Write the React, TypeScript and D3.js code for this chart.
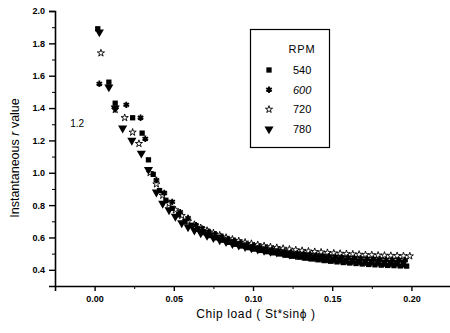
import { useEffect, useRef } from 'react';
import * as d3 from 'd3';

const width = 450;
const height = 333;
const [mt, mr, mb, ml] = [11, 0, 47, 55];

// chip load (x) and instantaneous r value (y), one pair of arrays per RPM
const chipLoad540 = [0.002, 0.009, 0.013, 0.024, 0.030, 0.034, 0.037, 0.041, 0.045, 0.049, 0.053, 0.057, 0.061, 0.065, 0.069, 0.073, 0.077, 0.081, 0.085, 0.089, 0.093, 0.097, 0.101, 0.105, 0.109, 0.113, 0.117, 0.121, 0.125, 0.129, 0.133, 0.137, 0.141, 0.145, 0.149, 0.153, 0.157, 0.161, 0.165, 0.169, 0.173, 0.177, 0.181, 0.185, 0.189, 0.193, 0.197];
const rValue540 = [1.89, 1.56, 1.43, 1.34, 1.245, 1.08, 0.99, 0.89, 0.83, 0.78, 0.74, 0.70, 0.675, 0.65, 0.63, 0.612, 0.598, 0.583, 0.57, 0.558, 0.547, 0.537, 0.528, 0.52, 0.512, 0.505, 0.498, 0.49, 0.484, 0.478, 0.472, 0.467, 0.462, 0.457, 0.453, 0.449, 0.445, 0.442, 0.439, 0.436, 0.433, 0.431, 0.429, 0.427, 0.426, 0.424, 0.423];

const chipLoad600 = [0.003, 0.020, 0.029, 0.032, 0.039, 0.044, 0.049, 0.054, 0.059, 0.064, 0.068, 0.072, 0.076, 0.080, 0.084, 0.088, 0.092, 0.096, 0.100, 0.104, 0.108, 0.112, 0.116, 0.120, 0.124, 0.128, 0.132, 0.136, 0.140, 0.144, 0.148, 0.152, 0.156, 0.160, 0.164, 0.168, 0.172, 0.176, 0.180, 0.184, 0.188, 0.192, 0.196];
const rValue600 = [1.55, 1.42, 1.34, 1.21, 0.955, 0.875, 0.82, 0.757, 0.72, 0.676, 0.655, 0.635, 0.62, 0.605, 0.59, 0.578, 0.567, 0.557, 0.548, 0.54, 0.533, 0.526, 0.52, 0.514, 0.508, 0.503, 0.499, 0.495, 0.491, 0.487, 0.484, 0.481, 0.478, 0.476, 0.473, 0.471, 0.469, 0.467, 0.465, 0.463, 0.462, 0.461, 0.46];

const chipLoad720 = [0.004, 0.013, 0.019, 0.024, 0.028, 0.035, 0.039, 0.043, 0.047, 0.051, 0.055, 0.059, 0.063, 0.067, 0.071, 0.075, 0.079, 0.083, 0.087, 0.091, 0.095, 0.099, 0.103, 0.107, 0.111, 0.115, 0.119, 0.123, 0.127, 0.131, 0.135, 0.139, 0.143, 0.147, 0.151, 0.155, 0.159, 0.163, 0.167, 0.171, 0.175, 0.179, 0.183, 0.187, 0.191, 0.195, 0.199];
const rValue720 = [1.74, 1.39, 1.34, 1.25, 1.18, 1.0, 0.93, 0.86, 0.81, 0.77, 0.735, 0.70, 0.68, 0.66, 0.643, 0.628, 0.614, 0.60, 0.589, 0.579, 0.57, 0.562, 0.555, 0.548, 0.542, 0.537, 0.532, 0.527, 0.523, 0.519, 0.515, 0.512, 0.509, 0.506, 0.503, 0.501, 0.499, 0.497, 0.495, 0.493, 0.492, 0.49, 0.489, 0.488, 0.487, 0.486, 0.485];

const chipLoad780 = [0.003, 0.009, 0.013, 0.0177, 0.0235, 0.0295, 0.034, 0.039, 0.043, 0.047, 0.051, 0.055, 0.059, 0.063, 0.067, 0.071, 0.075, 0.079, 0.083, 0.087, 0.091, 0.095, 0.099, 0.103, 0.107, 0.111, 0.115, 0.119, 0.123, 0.127, 0.131, 0.135, 0.139, 0.143, 0.147, 0.151, 0.155, 0.159, 0.163, 0.167, 0.171, 0.175, 0.179, 0.183, 0.187, 0.191, 0.195];
const rValue780 = [1.87, 1.53, 1.40, 1.276, 1.20, 1.12, 1.02, 0.88, 0.81, 0.77, 0.73, 0.69, 0.665, 0.645, 0.628, 0.612, 0.598, 0.585, 0.573, 0.562, 0.552, 0.543, 0.535, 0.527, 0.52, 0.514, 0.508, 0.502, 0.497, 0.492, 0.487, 0.483, 0.479, 0.475, 0.471, 0.468, 0.465, 0.462, 0.459, 0.456, 0.454, 0.452, 0.45, 0.448, 0.446, 0.445, 0.444];

const rpmLabels = ['540', '600', '720', '780'];
const xTicks = [0, 0.05, 0.1, 0.15, 0.2];
const xMinorTicks = [-0.025, 0.025, 0.075, 0.125, 0.175, 0.225];
const yTicks = [0.4, 0.6, 0.8, 1.0, 1.2, 1.4, 1.6, 1.8, 2.0];
const yMinorTicks = [0.3, 0.5, 0.7, 0.9, 1.1, 1.3, 1.5, 1.7, 1.9];

const font = 'Arial, "Liberation Sans", sans-serif';

export default function App() {
    const ref = useRef<HTMLDivElement>(null);

    useEffect(() => {
        const root = d3.select(ref.current);
        root.selectAll('*').remove();

        const svg = root
            .append('svg')
            .attr('width', width)
            .attr('height', height)
            .style('display', 'block')
            .style('background', '#fff')
            .attr('font-family', font);

        const x = d3.scaleLinear().domain([-0.025, 0.225]).range([ml, width - mr + 1]);
        const y = d3.scaleLinear().domain([0.3, 2.0]).range([height - mb, mt]);

        // axes
        const xAxisG = svg.append('g').attr('transform', `translate(0,${height - mb})`);
        xAxisG
            .append('g')
            .call(d3.axisBottom(x).tickValues(xMinorTicks).tickSize(3).tickFormat(() => ''))
            .call((g) => g.select('.domain').remove());
        xAxisG
            .append('g')
            .call(d3.axisBottom(x).tickValues(xTicks).tickSize(5).tickPadding(5).tickFormat(d3.format('.2f')))
            .call((g) => g.select('.domain').attr('stroke-width', 1.6))
            .call((g) => g.selectAll('.tick line').attr('stroke-width', 1.4))
            .call((g) => g.selectAll('text').attr('font-size', 9).attr('font-weight', 'bold').attr('font-family', font));

        const yAxisG = svg.append('g').attr('transform', `translate(${ml},0)`);
        yAxisG
            .append('g')
            .call(d3.axisLeft(y).tickValues(yMinorTicks).tickSize(3).tickFormat(() => ''))
            .call((g) => g.select('.domain').remove());
        yAxisG
            .append('g')
            .call(d3.axisLeft(y).tickValues(yTicks).tickSize(6).tickPadding(4).tickFormat(d3.format('.1f')))
            .call((g) => g.select('.domain').attr('stroke-width', 1.6))
            .call((g) => g.selectAll('.tick line').attr('stroke-width', 1.4))
            .call((g) => g.selectAll('text').attr('font-size', 9).attr('font-weight', 'bold').attr('font-family', font));

        // stray label inside plot
        svg.append('text')
            .attr('x', x(-0.011))
            .attr('y', y(1.28))
            .attr('text-anchor', 'middle')
            .attr('font-size', 10)
            .text('1.2');

        // markers
        const symbols = [
            { type: d3.symbolSquare, size: 28, fill: '#000', stroke: 'none', sw: 0, rot: 0 },
            { type: d3.symbolAsterisk, size: 28, fill: 'none', stroke: '#000', sw: 1.9, rot: 0 },
            { type: d3.symbolStar, size: 16, fill: '#fff', stroke: '#000', sw: 0.9, rot: 0 },
            { type: d3.symbolTriangle, size: 36, fill: '#000', stroke: 'none', sw: 0, rot: 180 }
        ];
        const series = [
            { xs: chipLoad540, ys: rValue540 },
            { xs: chipLoad600, ys: rValue600 },
            { xs: chipLoad720, ys: rValue720 },
            { xs: chipLoad780, ys: rValue780 }
        ];

        const drawOrder = [2, 1, 3, 0];
        drawOrder.forEach((si) => {
            const s = series[si];
            const sym = symbols[si];
            const path = d3.symbol().type(sym.type).size(sym.size)();
            svg.append('g')
                .selectAll('path')
                .data(d3.range(s.xs.length))
                .join('path')
                .attr('d', path)
                .attr('transform', (i) => `translate(${x(s.xs[i])},${y(s.ys[i])}) rotate(${sym.rot})`)
                .attr('fill', sym.fill)
                .attr('stroke', sym.stroke)
                .attr('stroke-width', sym.sw);
        });

        // legend
        const lg = svg.append('g');
        lg.append('rect')
            .attr('x', 250.5)
            .attr('y', 29.5)
            .attr('width', 79)
            .attr('height', 118)
            .attr('fill', '#fff')
            .attr('stroke', '#000')
            .attr('stroke-width', 1.2);
        lg.append('text')
            .attr('x', 302)
            .attr('y', 53)
            .attr('text-anchor', 'middle')
            .attr('font-size', 11)
            .attr('letter-spacing', 0.8)
            .text('RPM');
        rpmLabels.forEach((label, i) => {
            const cy = 70 + i * 19.7;
            const sym = symbols[i];
            lg.append('path')
                .attr('d', d3.symbol().type(sym.type).size(sym.size)())
                .attr('transform', `translate(269,${cy}) rotate(${sym.rot})`)
                .attr('fill', sym.fill)
                .attr('stroke', sym.stroke)
                .attr('stroke-width', sym.sw);
            lg.append('text')
                .attr('x', 293)
                .attr('y', cy + 4)
                .attr('font-size', 11)
                .attr('font-style', i === 1 ? 'italic' : 'normal')
                .text(label);
        });

        // axis titles
        svg.append('text')
            .attr('transform', `translate(19,${158}) rotate(-90)`)
            .attr('text-anchor', 'middle')
            .attr('font-size', 12.5)
            .call((t) => {
                t.append('tspan').text('Instantaneous ');
                t.append('tspan').attr('font-style', 'italic').text('r');
                t.append('tspan').text(' value');
            });

        svg.append('text')
            .attr('x', 256)
            .attr('y', 318)
            .attr('text-anchor', 'middle')
            .attr('font-size', 12)
            .attr('letter-spacing', 0.6)
            .text('Chip load ( St*sinϕ )');
    }, []);

    return (
        <>
            <style>{'body { margin: 0; }'}</style>
            <div ref={ref} />
        </>
    );
}
